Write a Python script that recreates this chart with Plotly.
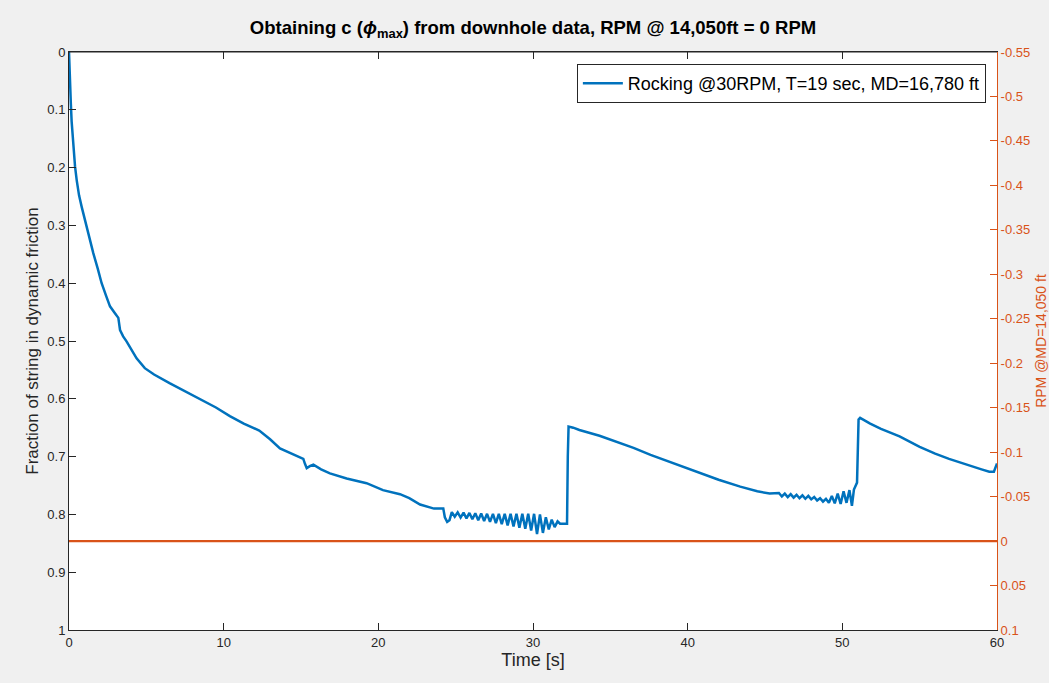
import plotly.graph_objects as go

# ---- data ----
time_s = [
    0, 0.03, 0.07, 0.12, 0.17, 0.23, 0.3, 0.39, 0.5, 0.65, 0.82, 1.0, 1.14, 1.35, 1.57, 1.85,
    2.11, 2.4, 2.65, 2.97, 3.19, 3.3, 3.5, 3.73, 3.94, 4.37, 4.9, 5.5, 6.5, 7.5, 8.5, 9.5,
    10.4, 11.3, 12.3, 13.0, 13.64, 14.4, 15.15, 15.25, 15.37, 15.6, 15.8, 16.3, 16.87, 17.95,
    19.24, 20.3, 21.4, 22.0, 22.7, 23.6, 24.2, 24.3, 24.45, 24.6,
    24.75, 24.94, 25.13, 25.32, 25.51, 25.70, 25.89, 26.08, 26.27, 26.46, 26.65, 26.84,
    27.03, 27.22, 27.41, 27.60, 27.79, 27.98, 28.17, 28.36, 28.55, 28.74, 28.93, 29.12,
    29.31, 29.50, 29.69, 29.88, 30.07, 30.26, 30.45, 30.64, 30.83, 31.02, 31.21, 31.40,
    31.59, 31.75, 32.1, 32.2, 32.25, 32.3,
    32.6, 33.0, 34.3, 35.5, 36.5, 37.6, 38.5, 39.5, 40.8, 42.0, 43.4, 44.5, 45.3,
    45.90, 46.09, 46.28, 46.47, 46.66, 46.85, 47.04, 47.23, 47.42, 47.61, 47.80, 47.99,
    48.18, 48.37, 48.56, 48.75, 48.94, 49.13, 49.32, 49.51, 49.70, 49.89, 50.08, 50.27,
    50.46, 50.62, 50.75, 50.95, 51.05, 51.15,
    51.8, 52.5, 53.7, 55.0, 56.0, 56.9, 58.0, 59.0, 59.5, 59.8, 60.0,
]
fraction = [
    0.0, 0.03, 0.06, 0.09, 0.12, 0.145, 0.165, 0.198, 0.222, 0.248, 0.268, 0.288, 0.300, 0.325,
    0.348, 0.374, 0.400, 0.422, 0.44, 0.452, 0.46, 0.481, 0.492, 0.501, 0.51, 0.53, 0.547, 0.558,
    0.573, 0.587, 0.600, 0.615, 0.630, 0.643, 0.655, 0.670, 0.686, 0.695, 0.704, 0.712, 0.720,
    0.716, 0.714, 0.722, 0.729, 0.738, 0.746, 0.758, 0.765, 0.772, 0.783, 0.790, 0.790, 0.805,
    0.813, 0.810,
    0.796, 0.804, 0.7965, 0.8055, 0.797, 0.807, 0.7975, 0.8085, 0.798, 0.810, 0.7985, 0.8115,
    0.799, 0.813, 0.799, 0.815, 0.799, 0.817, 0.799, 0.819, 0.799, 0.821, 0.799, 0.823,
    0.799, 0.825, 0.799, 0.828, 0.799, 0.834, 0.800, 0.832, 0.805, 0.826, 0.809, 0.822,
    0.812, 0.816, 0.816, 0.816, 0.70, 0.648,
    0.650, 0.654, 0.664, 0.675, 0.685, 0.697, 0.706, 0.715, 0.728, 0.740, 0.752, 0.760, 0.764,
    0.763, 0.769, 0.764, 0.770, 0.765, 0.771, 0.766, 0.772, 0.767, 0.773, 0.768, 0.774,
    0.770, 0.776, 0.772, 0.778, 0.773, 0.780, 0.768, 0.781, 0.764, 0.782, 0.760, 0.780,
    0.758, 0.785, 0.757, 0.745, 0.636, 0.633,
    0.643, 0.652, 0.665, 0.683, 0.695, 0.704, 0.714, 0.722, 0.726, 0.726, 0.712,
]
rpm_time = [0, 60]
rpm_values = [0, 0]

left_ticks = [0, 0.1, 0.2, 0.3, 0.4, 0.5, 0.6, 0.7, 0.8, 0.9, 1]
right_ticks = [-0.55, -0.5, -0.45, -0.4, -0.35, -0.3, -0.25, -0.2, -0.15, -0.1, -0.05, 0, 0.05, 0.1]
right_tick_text = ["-0.55", "-0.5", "-0.45", "-0.4", "-0.35", "-0.3", "-0.25", "-0.2", "-0.15",
                   "-0.1", "-0.05", "0", "0.05", "0.1"]
x_ticks = [0, 10, 20, 30, 40, 50, 60]

BLUE = "#0072BD"
ORANGE = "#D95319"
TXT = "#262626"
FONT = "Liberation Sans, Arial, sans-serif"

fig = go.Figure()
fig.add_trace(go.Scatter(
    x=time_s, y=fraction, mode="lines", name="Rocking @30RPM, T=19 sec, MD=16,780 ft",
    line=dict(color=BLUE, width=2.5), yaxis="y",
))
fig.add_trace(go.Scatter(
    x=rpm_time, y=rpm_values, mode="lines", name="RPM", showlegend=False,
    line=dict(color=ORANGE, width=2.2), yaxis="y2",
))

fig.update_layout(
    width=1049, height=683,
    paper_bgcolor="#f0f0f0", plot_bgcolor="white",
    margin=dict(l=69, r=52, t=52, b=53, autoexpand=False),
    font=dict(family=FONT, color=TXT, size=13),
    title=dict(
        text="<b>Obtaining c (<i>ϕ</i><sub>max</sub>) from downhole data, RPM @ 14,050ft = 0 RPM</b>",
        x=0.5, xref="paper", y=1 - 28 / 683, yanchor="middle",
        font=dict(size=18.5, color="black", family=FONT),
    ),
    xaxis=dict(
        range=[0, 60], tickvals=x_ticks, ticks="inside", ticklen=7, tickcolor=TXT,
        showgrid=False, zeroline=False, showline=True, linecolor=TXT, linewidth=1,
        mirror="ticks", tickfont=dict(size=13, color=TXT),
        title=dict(text="Time [s]", font=dict(size=18, color=TXT), standoff=4),
    ),
    yaxis=dict(
        range=[1, 0], tickvals=left_ticks, ticks="inside", ticklen=7, tickcolor=TXT,
        showgrid=False, zeroline=False, showline=True, linecolor=TXT, linewidth=1,
        tickfont=dict(size=13, color=TXT),
        title=dict(text="Fraction of string in dynamic friction", font=dict(size=17, color=TXT), standoff=4),
    ),
    yaxis2=dict(
        range=[0.1, -0.55], overlaying="y", side="right", tickvals=right_ticks, ticktext=right_tick_text,
        ticks="inside", ticklen=7, tickcolor=ORANGE, showgrid=False, zeroline=False,
        showline=True, linecolor=ORANGE, linewidth=1, tickfont=dict(size=13, color=ORANGE),
        title=dict(text="RPM @MD=14,050 ft", font=dict(size=14, color=ORANGE), standoff=8),
    ),
    legend=dict(
        x=0.988, y=0.979, xanchor="right", yanchor="top", bgcolor="white",
        bordercolor="#262626", borderwidth=1, font=dict(size=18, color="black"),
        itemwidth=40,
    ),
    showlegend=True,
)
fig.add_shape(type="line", xref="paper", yref="paper", x0=0, x1=1, y0=1, y1=1,
              line=dict(color=TXT, width=1))

fig.write_html(
    "out.html",
    config={"displayModeBar": False},
    post_script="document.body.style.margin='0';document.body.style.background='#f0f0f0';",
)
